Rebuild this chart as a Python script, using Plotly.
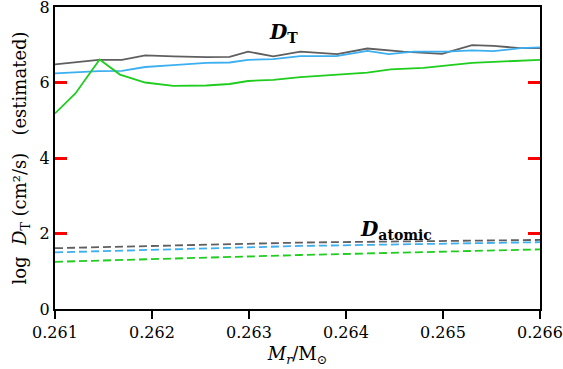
import plotly.graph_objects as go

# D_T (estimated), solid lines
x_gray = [0.26100, 0.26119, 0.26145, 0.26169, 0.26193, 0.26222, 0.26256, 0.26280, 0.26299,
          0.26325, 0.26353, 0.26391, 0.26422, 0.26459, 0.26499, 0.26530, 0.26552, 0.26580, 0.26600]
y_gray = [6.48, 6.53, 6.60, 6.60, 6.72, 6.69, 6.67, 6.68, 6.82,
          6.69, 6.82, 6.75, 6.90, 6.82, 6.76, 6.99, 6.97, 6.91, 6.91]

x_blue = [0.26100, 0.26119, 0.26145, 0.26169, 0.26193, 0.26222, 0.26256, 0.26280, 0.26299,
          0.26325, 0.26353, 0.26390, 0.26422, 0.26444, 0.26470, 0.26504, 0.26530, 0.26552, 0.26580, 0.26600]
y_blue = [6.24, 6.27, 6.30, 6.31, 6.41, 6.46, 6.52, 6.53, 6.60,
          6.62, 6.70, 6.70, 6.84, 6.75, 6.82, 6.82, 6.85, 6.83, 6.91, 6.93]

x_green = [0.26100, 0.26121, 0.26146, 0.26167, 0.26193, 0.26222, 0.26256, 0.26280, 0.26299,
           0.26325, 0.26353, 0.26422, 0.26446, 0.26480, 0.26530, 0.26600]
y_green = [5.18, 5.71, 6.61, 6.21, 6.00, 5.91, 5.92, 5.96, 6.04,
           6.07, 6.14, 6.26, 6.35, 6.39, 6.52, 6.60]

# D_atomic, dashed lines
x_atomic = [0.26100, 0.26353, 0.26600]
y_atomic_gray = [1.61, 1.76, 1.83]
y_atomic_blue = [1.50, 1.67, 1.77]
y_atomic_green = [1.25, 1.43, 1.58]

x_ticks = [0.261, 0.262, 0.263, 0.264, 0.265, 0.266]
y_ticks = [0, 2, 4, 6, 8]

gray = 'rgb(95,95,95)'
blue = 'rgb(60,175,240)'
green = 'rgb(30,205,30)'
font = 'DejaVu Serif'

fig = go.Figure()
for xs, ys, color, dash in [
    (x_atomic, y_atomic_gray, gray, '8px,4px'),
    (x_atomic, y_atomic_blue, blue, '8px,4px'),
    (x_atomic, y_atomic_green, green, '8px,4px'),
    (x_gray, y_gray, gray, 'solid'),
    (x_blue, y_blue, blue, 'solid'),
    (x_green, y_green, green, 'solid'),
]:
    fig.add_trace(go.Scatter(x=xs, y=ys, mode='lines', showlegend=False,
                             line=dict(color=color, width=1.8, dash=dash)))

fig.add_annotation(x=0.26336, y=7.3, xref='x', yref='y', showarrow=False,
                   text='<b><i>D</i><sub>T</sub></b>',
                   font=dict(family=font, size=20, color='black'))
fig.add_annotation(x=0.26452, y=2.1, xref='x', yref='y', showarrow=False,
                   text='<b><i>D</i><sub>atomic</sub></b>',
                   font=dict(family=font, size=20, color='black'))

axis_common = dict(
    showgrid=False, zeroline=False, showline=True, linecolor='black', linewidth=2,
    automargin=False, ticklabeloverflow='allow',
    tickfont=dict(family=font, size=16, color='black'),
)

fig.update_xaxes(range=[0.261, 0.266], tickvals=x_ticks, tickformat='.3f',
                 mirror=True, ticks='outside', ticklen=8, tickwidth=2, tickcolor='black',
                 title=dict(text='<i>M</i><sub><i>r</i></sub>/M<sub>⊙</sub>',
                            font=dict(family=font, size=18, color='black'), standoff=6),
                 **axis_common)
fig.update_yaxes(range=[0, 8], tickvals=y_ticks,
                 mirror='ticks', ticks='inside', ticklen=12, tickwidth=3, tickcolor='red',
                 title=dict(text='log  <i>D</i><sub>T</sub> (cm²/s)   (estimated)',
                            font=dict(family=font, size=18, color='black'), standoff=8),
                 **axis_common)

fig.update_layout(
    template='none',
    width=563, height=369,
    margin=dict(l=55, r=23, t=7, b=60),
    plot_bgcolor='white', paper_bgcolor='white',
)

# drop the browser's default page margin so the figure sits at the window corner
fig.write_html("out.html", config={'displayModeBar': False},
               post_script="document.body.style.margin='0';")
